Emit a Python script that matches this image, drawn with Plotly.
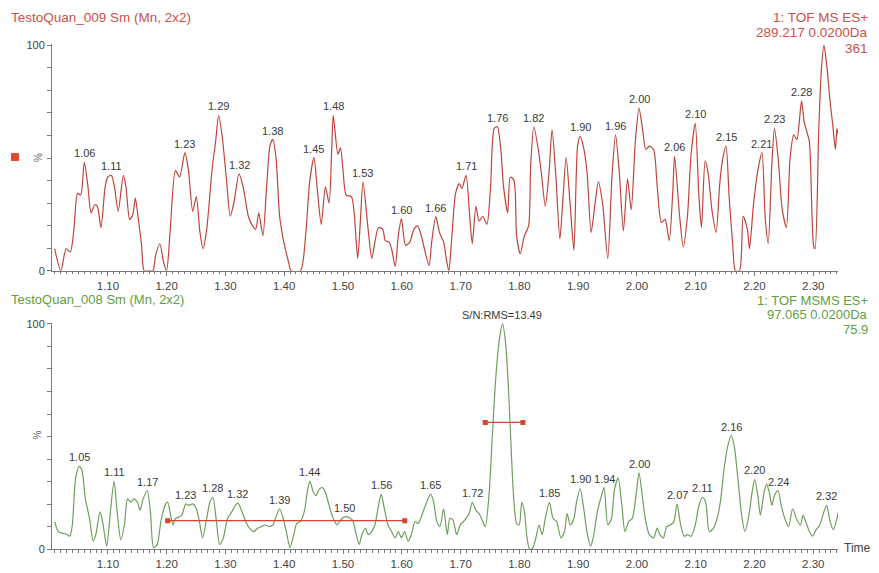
import plotly.graph_objects as go

# ---- chromatogram: TestoQuan_009, m/z 289.217 (TOF MS ES+) ----
top_time = [1.0095, 1.0201, 1.0290, 1.0361, 1.0423, 1.0485, 1.0538, 1.0600, 1.0662, 1.0715,
            1.0777, 1.0821, 1.0883, 1.0954, 1.0998, 1.1060, 1.1113, 1.1175, 1.1264, 1.1308,
            1.1371, 1.1424, 1.1468, 1.1512, 1.1574, 1.1619, 1.1707, 1.1769, 1.1813, 1.1884,
            1.1946, 1.1999, 1.2062, 1.2150, 1.2221, 1.2310, 1.2372, 1.2443, 1.2505, 1.2567,
            1.2620, 1.2682, 1.2771, 1.2833, 1.2886, 1.2948, 1.3019, 1.3081, 1.3143, 1.3231,
            1.3302, 1.3390, 1.3461, 1.3514, 1.3567, 1.3638, 1.3700, 1.3762, 1.3807, 1.3860,
            1.3922, 1.3993, 1.4073, 1.4117, 1.4276, 1.4364, 1.4435, 1.4506, 1.4559, 1.4630,
            1.4701, 1.4763, 1.4807, 1.4834, 1.4913, 1.4957, 1.5001, 1.5054, 1.5143, 1.5187,
            1.5250, 1.5294, 1.5340, 1.5427, 1.5489, 1.5542, 1.5604, 1.5675, 1.5719, 1.5782,
            1.5826, 1.5888, 1.5941, 1.5994, 1.6065, 1.6136, 1.6207, 1.6269, 1.6331, 1.6384,
            1.6464, 1.6508, 1.6579, 1.6641, 1.6712, 1.6756, 1.6800, 1.6845, 1.6915, 1.6977,
            1.7022, 1.7093, 1.7155, 1.7199, 1.7261, 1.7315, 1.7377, 1.7448, 1.7510, 1.7572,
            1.7625, 1.7687, 1.7731, 1.7802, 1.7846, 1.7908, 1.7953, 1.8015, 1.8086, 1.8157,
            1.8193, 1.8246, 1.8326, 1.8370, 1.8441, 1.8503, 1.8556, 1.8618, 1.8689, 1.8733,
            1.8795, 1.8866, 1.8928, 1.8990, 1.9034, 1.9087, 1.9149, 1.9220, 1.9282, 1.9344,
            1.9415, 1.9504, 1.9575, 1.9636, 1.9698, 1.9769, 1.9840, 1.9902, 1.9973, 2.0035,
            2.0097, 2.0150, 2.0212, 2.0283, 2.0345, 2.0416, 2.0478, 2.0549, 2.0611, 2.0640,
            2.0726, 2.0788, 2.0859, 2.0921, 2.0992, 2.1054, 2.1098, 2.1160, 2.1213, 2.1275,
            2.1346, 2.1409, 2.1453, 2.1515, 2.1568, 2.1630, 2.1675, 2.1745, 2.1807, 2.1878,
            2.1914, 2.1985, 2.2056, 2.2127, 2.2180, 2.2233, 2.2295, 2.2339, 2.2401, 2.2472,
            2.2543, 2.2605, 2.2667, 2.2720, 2.2800, 2.2844, 2.2889, 2.2933, 2.3004, 2.3030,
            2.3092, 2.3137, 2.3181, 2.3225, 2.3287, 2.3331, 2.3376, 2.3402, 2.3447]
top_pct = [9.8, 0.0, 9.8, 8.4, 18.5, 34.3, 33.6, 48.1, 37.2, 25.7,
           29.3, 28.6, 19.2, 37.2, 41.6, 42.3, 37.2, 26.4, 42.3, 37.2,
           22.8, 25.0, 32.2, 24.2, 11.3, 0.0, 0.0, 0.0, 6.9, 12.0,
           4.0, 0.0, 18.5, 44.4, 41.6, 52.4, 44.4, 26.4, 32.9, 17.0,
           9.8, 18.5, 44.4, 57.4, 69.0, 58.9, 40.1, 24.2, 30.0, 43.0,
           37.2, 24.2, 19.9, 18.5, 25.7, 15.6, 37.2, 56.0, 58.2, 50.2,
           24.2, 12.7, 4.0, 0.0, 0.0, 15.6, 40.1, 50.2, 37.2, 20.6,
           37.2, 30.0, 53.1, 69.0, 51.7, 54.5, 44.4, 33.6, 32.9, 26.4,
           5.5, 21.4, 39.4, 18.5, 5.5, 12.7, 19.2, 18.5, 13.4, 12.7,
           9.8, 1.9, 15.6, 23.1, 11.3, 12.7, 18.5, 19.9, 15.6, 9.8,
           2.3, 12.7, 24.0, 17.0, 12.7, 5.5, 0.0, 12.7, 34.3, 38.7,
           36.5, 42.3, 24.2, 12.0, 28.6, 22.1, 24.2, 20.6, 37.2, 63.2,
           63.9, 53.1, 37.2, 25.7, 41.6, 40.1, 15.6, 7.6, 15.6, 19.9,
           47.3, 63.9, 53.1, 44.4, 28.6, 43.0, 62.5, 43.0, 14.1, 28.6,
           50.2, 28.6, 9.1, 55.3, 59.6, 55.3, 44.4, 17.0, 28.6, 39.4,
           30.0, 5.5, 41.6, 60.3, 44.4, 17.7, 40.8, 27.1, 57.4, 72.2,
           62.5, 53.8, 55.3, 53.8, 37.2, 21.4, 22.8, 13.4, 35.8, 50.9,
           24.2, 10.5, 24.2, 51.7, 65.4, 32.9, 19.2, 48.8, 43.0, 27.1,
           17.0, 38.7, 48.8, 55.3, 32.9, 11.3, 0.0, 0.0, 24.2, 18.5,
           9.8, 30.0, 44.4, 52.4, 24.2, 12.0, 47.3, 63.2, 50.2, 27.1,
           19.2, 50.2, 60.3, 58.2, 75.5, 66.1, 61.8, 57.4, 11.3, 9.8,
           61.8, 89.2, 100.0, 92.1, 74.7, 64.6, 53.8, 63.2, 56.0]
top_labels = ["1.06", "1.11", "1.23", "1.29", "1.32", "1.38", "1.45", "1.48", "1.53",
              "1.60", "1.66", "1.71", "1.76", "1.82", "1.90", "1.96", "2.00", "2.06",
              "2.10", "2.15", "2.21", "2.23", "2.28"]

# ---- chromatogram: TestoQuan_008, m/z 97.065 (TOF MSMS ES+) ----
bot_time = [1.0095, 1.0157, 1.0219, 1.0290, 1.0352, 1.0396, 1.0449, 1.0511, 1.0556, 1.0618,
            1.0688, 1.0751, 1.0795, 1.0866, 1.0910, 1.0981, 1.1043, 1.1105, 1.1158, 1.1220,
            1.1282, 1.1335, 1.1397, 1.1441, 1.1503, 1.1547, 1.1600, 1.1671, 1.1724, 1.1778,
            1.1840, 1.1902, 1.1973, 1.2017, 1.2062, 1.2106, 1.2150, 1.2212, 1.2257, 1.2327,
            1.2372, 1.2443, 1.2505, 1.2558, 1.2611, 1.2682, 1.2735, 1.2788, 1.2841, 1.2903,
            1.2965, 1.3036, 1.3107, 1.3169, 1.3213, 1.3284, 1.3346, 1.3408, 1.3479, 1.3550,
            1.3612, 1.3674, 1.3745, 1.3807, 1.3860, 1.3922, 1.3984, 1.4046, 1.4099, 1.4161,
            1.4214, 1.4276, 1.4347, 1.4391, 1.4435, 1.4497, 1.4542, 1.4595, 1.4648, 1.4701,
            1.4763, 1.4834, 1.4896, 1.4958, 1.5029, 1.5073, 1.5162, 1.5224, 1.5277, 1.5321,
            1.5383, 1.5427, 1.5489, 1.5542, 1.5604, 1.5649, 1.5693, 1.5764, 1.5826, 1.5888,
            1.5941, 1.5994, 1.6047, 1.6109, 1.6162, 1.6225, 1.6278, 1.6331, 1.6402, 1.6490,
            1.6543, 1.6596, 1.6650, 1.6712, 1.6774, 1.6818, 1.6871, 1.6933, 1.6995, 1.7049,
            1.7111, 1.7155, 1.7199, 1.7261, 1.7315, 1.7377, 1.7421, 1.7483, 1.7536, 1.7598,
            1.7660, 1.7713, 1.7766, 1.7820, 1.7864, 1.7908, 1.7953, 1.7997, 1.8041, 1.8086,
            1.8130, 1.8175, 1.8228, 1.8281, 1.8334, 1.8387, 1.8441, 1.8511, 1.8573, 1.8635,
            1.8706, 1.8768, 1.8812, 1.8866, 1.8928, 1.8972, 1.9034, 1.9087, 1.9149, 1.9211,
            1.9256, 1.9326, 1.9397, 1.9442, 1.9504, 1.9566, 1.9619, 1.9681, 1.9743, 1.9796,
            1.9858, 1.9920, 1.9991, 2.0035, 2.0097, 2.0150, 2.0212, 2.0283, 2.0345, 2.0389,
            2.0451, 2.0505, 2.0567, 2.0629, 2.0682, 2.0744, 2.0806, 2.0859, 2.0921, 2.0992,
            2.1054, 2.1116, 2.1169, 2.1231, 2.1302, 2.1364, 2.1426, 2.1480, 2.1542, 2.1604,
            2.1657, 2.1719, 2.1781, 2.1834, 2.1896, 2.1958, 2.2003, 2.2056, 2.2100, 2.2162,
            2.2206, 2.2251, 2.2295, 2.2339, 2.2401, 2.2454, 2.2516, 2.2578, 2.2649, 2.2711,
            2.2782, 2.2826, 2.2871, 2.2933, 2.2986, 2.3048, 2.3110, 2.3163, 2.3225, 2.3287,
            2.3340, 2.3402, 2.3447]
bot_pct = [12.3, 7.9, 7.2, 6.8, 5.8, 10.8, 31.0, 36.8, 35.4, 22.4,
           13.7, 3.6, 6.5, 16.6, 12.3, 1.4, 16.6, 30.3, 16.6, 4.3,
           10.8, 22.4, 20.9, 22.4, 20.9, 17.3, 22.4, 26.0, 16.6, 0.7,
           2.2, 12.3, 19.5, 20.9, 15.9, 10.8, 13.7, 14.4, 15.2, 20.2,
           19.5, 20.2, 18.0, 12.3, 5.1, 13.7, 20.9, 23.1, 13.7, 2.2,
           5.1, 13.7, 16.6, 19.5, 20.5, 16.6, 12.3, 9.4, 7.9, 9.4,
           10.1, 10.8, 10.1, 10.8, 14.4, 18.0, 13.7, 6.5, 0.7, 6.5,
           11.5, 12.3, 17.3, 25.3, 30.3, 25.3, 23.8, 26.7, 27.4, 25.3,
           19.5, 13.7, 10.8, 13.0, 14.4, 14.4, 13.0, 6.5, 2.2, 6.5,
           9.4, 6.5, 7.9, 10.8, 19.5, 24.5, 19.5, 10.8, 7.9, 5.1,
           7.9, 5.1, 7.9, 3.6, 6.5, 12.3, 11.5, 14.4, 19.5, 24.5,
           20.9, 12.3, 10.1, 18.0, 6.5, 13.7, 13.0, 6.5, 10.8, 12.3,
           14.4, 16.6, 20.9, 17.3, 15.9, 12.3, 10.1, 23.8, 48.3, 75.8,
           93.1, 100.0, 91.6, 68.5, 42.6, 20.9, 11.5, 10.8, 20.9, 16.6,
           5.1, 0.0, 0.7, 5.1, 10.8, 6.5, 13.7, 20.9, 13.7, 12.3,
           5.1, 7.9, 15.9, 10.8, 13.7, 20.9, 27.0, 19.5, 7.9, 1.4,
           5.1, 16.6, 23.8, 27.4, 10.8, 13.7, 26.7, 31.7, 19.5, 7.9,
           12.3, 13.7, 25.3, 33.9, 22.4, 12.3, 6.5, 5.1, 9.4, 6.5,
           5.1, 10.1, 10.8, 12.3, 20.2, 10.8, 5.8, 6.5, 5.8, 10.8,
           19.5, 23.1, 20.9, 7.9, 9.4, 13.7, 22.4, 35.4, 45.5, 50.5,
           45.5, 31.0, 15.2, 7.9, 13.7, 25.3, 31.0, 23.8, 15.2, 25.3,
           28.9, 25.3, 19.5, 23.8, 26.0, 19.5, 13.7, 10.1, 18.0, 13.7,
           10.8, 15.2, 12.3, 7.9, 5.8, 8.7, 10.8, 15.2, 19.5, 12.3,
           8.7, 13.7, 19.5]
bot_labels = ["1.05", "1.11", "1.17", "1.23", "1.28", "1.32", "1.39", "1.44", "1.50",
              "1.56", "1.65", "1.72", "1.85", "1.90", "1.94", "2.00", "2.07", "2.11",
              "2.16", "2.20", "2.24", "2.32"]

# noise window and peak-width markers used for the S/N estimate
noise_time = [1.2018, 1.605]
noise_pct = [12.7, 12.7]
width_time = [1.742, 1.806]
width_pct = [56.3, 56.3]
sn_text = "S/N:RMS=13.49"

x_ticks = [1.10, 1.20, 1.30, 1.40, 1.50, 1.60, 1.70, 1.80, 1.90, 2.00, 2.10, 2.20, 2.30]

W, H = 879, 573
RED, RED_TXT = "#c0443a", "#c9514a"
GREEN, GREEN_TXT = "#6e9f5e", "#5f9e45"
AX = "#7a7a7a"
FONT = "Liberation Sans, Arial, sans-serif"


def px(x):
    return x / W


def py(y):
    return 1 - y / H


fig = go.Figure()
fig.add_trace(go.Scatter(x=top_time, y=top_pct, mode="lines",
                         line=dict(color=RED, width=1.2, shape="spline", smoothing=0.7),
                         xaxis="x", yaxis="y", hoverinfo="skip"))
fig.add_trace(go.Scatter(x=bot_time, y=bot_pct, mode="lines",
                         line=dict(color=GREEN, width=1.2, shape="spline", smoothing=0.7),
                         xaxis="x2", yaxis="y2", hoverinfo="skip"))
for xs, ys in ((noise_time, noise_pct), (width_time, width_pct)):
    fig.add_trace(go.Scatter(x=xs, y=ys, mode="lines+markers",
                             line=dict(color="#d8432e", width=1.3),
                             marker=dict(symbol="square", size=5, color="#d8432e"),
                             xaxis="x2", yaxis="y2", hoverinfo="skip"))


def peak_of(times, vals, label, win=0.007):
    v = float(label)
    cands = [(vals[i], times[i]) for i in range(len(times)) if abs(times[i] - v) <= win]
    y, t = max(cands)
    return t, y


annots = []
for lab in top_labels:
    t, y = peak_of(top_time, top_pct, lab)
    annots.append(dict(x=t, y=y, xref="x", yref="y", text=lab, showarrow=False,
                       yanchor="bottom", yshift=1, font=dict(size=11, color="#3a3a3a")))
for lab in bot_labels:
    t, y = peak_of(bot_time, bot_pct, lab)
    annots.append(dict(x=t, y=y, xref="x2", yref="y2", text=lab, showarrow=False,
                       yanchor="bottom", yshift=1, font=dict(size=11, color="#3a3a3a")))
imax = bot_pct.index(max(bot_pct))
annots.append(dict(x=bot_time[imax], y=bot_pct[imax], xref="x2", yref="y2", text=sn_text,
                   showarrow=False, yanchor="bottom", yshift=1,
                   font=dict(size=11, color="#3a3a3a")))


def text_at(x, y, s, color, size=13.5, xanchor="left", angle=0):
    annots.append(dict(x=px(x), y=py(y), xref="paper", yref="paper", text=s,
                       showarrow=False, xanchor=xanchor, yanchor="middle",
                       textangle=angle, font=dict(size=size, color=color)))


text_at(9, 13, "TestoQuan_009 Sm (Mn, 2x2)", RED_TXT)
text_at(870, 13, "1: TOF MS ES+", RED_TXT, xanchor="right")
text_at(870, 28, "289.217 0.0200Da", RED_TXT, xanchor="right")
text_at(870, 44, "361", RED_TXT, xanchor="right")
text_at(9, 300, "TestoQuan_008 Sm (Mn, 2x2)", GREEN_TXT, size=13)
text_at(870, 301, "1: TOF MSMS ES+", GREEN_TXT, size=13, xanchor="right")
text_at(870, 315.5, "97.065 0.0200Da", GREEN_TXT, size=13, xanchor="right")
text_at(870, 330.5, "75.9", GREEN_TXT, size=13, xanchor="right")
text_at(38, 156, "%", "#666666", size=10, xanchor="center", angle=-90)
text_at(38, 439, "%", "#666666", size=10, xanchor="center", angle=-90)
text_at(842, 554, "Time", "#444444", size=12)

x_dom = [px(52), px(838)]
x_range = [1.005, 2.342]
xcommon = dict(domain=x_dom, range=x_range, showline=True, linecolor=AX, linewidth=1,
               showgrid=False, zeroline=False, ticks="outside", ticklen=4, tickcolor=AX,
               tickvals=x_ticks, ticktext=["%.2f" % v for v in x_ticks],
               tickfont=dict(size=11.5, color="#444444"),
               minor=dict(dtick=0.01, tick0=1.0, ticks="outside", ticklen=2.5, tickcolor=AX))
ycommon = dict(range=[0, 100.5], showline=True, linecolor=AX, linewidth=1, showgrid=False,
               zeroline=False, ticks="outside", ticklen=4, tickcolor=AX,
               tickvals=list(range(0, 101, 10)),
               ticktext=["0"] + [""] * 9 + ["100"],
               tickfont=dict(size=11, color="#444444"))

fig.update_layout(
    width=W, height=H, margin=dict(l=0, r=0, t=0, b=0),
    paper_bgcolor="white", plot_bgcolor="white", showlegend=False,
    font=dict(family=FONT),
    xaxis=dict(anchor="y", **xcommon),
    yaxis=dict(domain=[py(271), py(40)], anchor="x", **ycommon),
    xaxis2=dict(anchor="y2", **xcommon),
    yaxis2=dict(domain=[py(555), py(324)], anchor="x2", **ycommon),
    annotations=annots,
    shapes=[dict(type="rect", xref="paper", yref="paper", x0=px(11), x1=px(19),
                 y0=py(159), y1=py(151), fillcolor="#e8452c", line=dict(width=0))],
)

fig.write_html("out.html")
